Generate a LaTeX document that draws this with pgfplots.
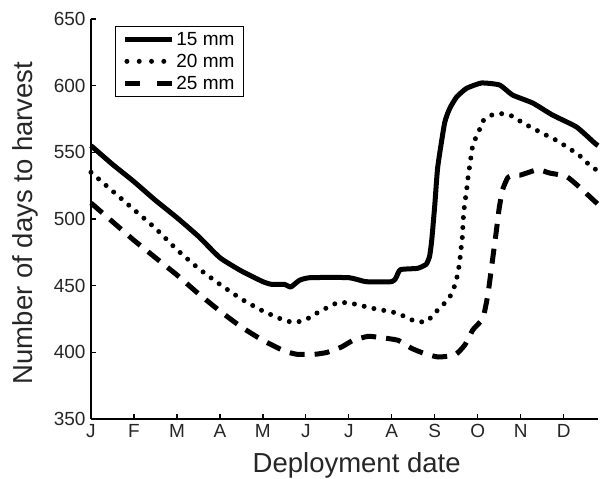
\documentclass[border=0pt]{standalone}
\usepackage{fontspec}
\setmainfont{Liberation Sans}
\usepackage{pgfplots}
\pgfplotsset{compat=1.18}
\begin{document}
\begin{tikzpicture}
\begin{axis}[
  scale only axis,
  width=507pt, height=400pt,
  xmin=0, xmax=11.8, ymin=350, ymax=650,
  axis x line*=bottom, axis y line*=left,
  axis line style={line width=1.4pt,-},
  tick align=inside, major tick length=5pt,
  tick style={line width=1.3pt, black},
  xtick={0,1,2,3,4,5,6,7,8,9,10,11},
  xticklabels={J,F,M,A,M,J,J,A,S,O,N,D},
  ytick={350,400,450,500,550,600,650},
  /pgf/number format/assume math mode=true,
  ticklabel style={font=\fontsize{19}{22}\selectfont, text=black!85},
  xticklabel style={yshift=-2pt},
  yticklabel style={xshift=-2pt},
  xlabel={Deployment date},
  ylabel={Number of days to harvest},
  label style={font=\fontsize{27.5}{30}\selectfont, text=black!85},
  xlabel style={at={(axis description cs:0.524,-0.133)}, anchor=base},
  ylabel style={at={(axis description cs:-0.130,0.49)}, anchor=center, rotate=0},
  legend style={at={(axis description cs:0.047,0.983)}, anchor=north west,
    draw=black, line width=1.2pt, font=\fontsize{19}{22}\selectfont,
    inner xsep=7pt, inner ysep=4pt, row sep=3pt},
  legend cell align=left,
  clip=false,
  every axis plot/.append style={smooth, tension=0.3},
]
\addplot[black, line width=5pt, line join=round,
  legend image code/.code={\draw[black, line width=5pt] (0pt,0pt) -- (47pt,0pt);}]
coordinates {
(0,555) (0.5,541) (1,528) (1.5,514) (2,501) (2.5,487) (3,471) (3.5,461) (4,453)
(4.2,451) (4.5,451) (4.65,449) (4.85,454) (5.1,456) (6,456) (6.4,453) (7.0,453)
(7.1,456) (7.2,462) (7.6,463) (7.8,466) (7.88,472) (7.93,484) (8.0,510) (8.07,539)
(8.23,572) (8.35,583) (8.51,591.5) (8.74,598) (9.09,602) (9.51,600.5) (9.81,593)
(10.28,587) (10.74,578) (11.3,569) (11.72,557) (11.8,555)
};
\addlegendentry{15 mm}
\addplot[black, line width=5pt, line cap=round, dash pattern=on 0pt off 10pt,
  legend image code/.code={\draw[black, line width=5pt, line cap=round, dash pattern=on 0pt off 12.3pt] (2pt,0pt) -- (47pt,0pt);}]
coordinates {
(0,535) (0.5,521) (1,507) (1.5,493) (2,477) (2.5,463) (3,451) (3.5,440) (4,431)
(4.5,424) (4.75,422.5) (5.0,424.5) (5.26,429.5) (5.72,437) (6.02,437) (6.56,433)
(7.11,429.5) (7.53,423.5) (7.81,423) (8.0,429.5) (8.19,435.5) (8.35,441.5)
(8.47,450.5) (8.54,459.5) (8.58,468) (8.61,477) (8.64,485.5) (8.67,503) (8.70,512)
(8.74,521) (8.77,530) (8.81,539) (8.89,556) (9.02,565) (9.12,573.5) (9.33,578)
(9.57,579) (9.82,577) (10.05,572) (10.29,568) (10.52,564) (10.75,560.5) (10.98,556)
(11.22,551) (11.41,546.5) (11.6,540.5) (11.8,536)
};
\addlegendentry{20 mm}
\addplot[black, line width=5pt, dash pattern=on 15pt off 10pt,
  legend image code/.code={\draw[black, line width=5pt, dash pattern=on 15pt off 17pt] (0pt,0pt) -- (47pt,0pt);}]
coordinates {
(0,512) (0.5,498) (1,484) (1.5,471) (2,458) (2.5,444) (3,431) (3.5,419) (4,409)
(4.5,401) (4.8,398.5) (5.2,398.5) (5.5,400) (5.83,404) (6.1,409) (6.45,412)
(6.76,411) (7.15,409) (7.46,403) (7.77,399) (8.08,396.5) (8.47,398) (8.7,405.5)
(8.89,417) (9.12,425.5) (9.24,444) (9.36,473) (9.43,490) (9.5,508) (9.58,522)
(9.7,531) (9.85,533) (10.0,533) (10.4,537) (10.67,534.5) (11.06,532) (11.33,525)
(11.6,517) (11.8,511)
};
\addlegendentry{25 mm}
\end{axis}
\pgfresetboundingbox
\path (-91pt,-60pt) rectangle (509pt,419pt);
\end{tikzpicture}
\end{document}
